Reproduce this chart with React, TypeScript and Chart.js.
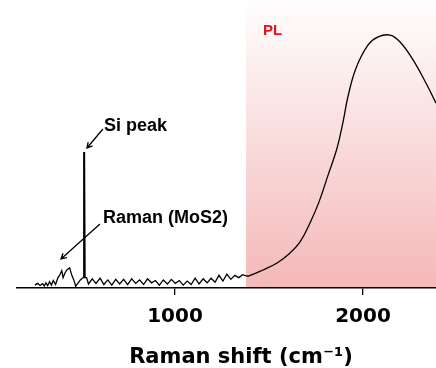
import React, { useEffect, useRef } from "react";
import { Chart, registerables } from "chart.js";

Chart.register(...registerables);

// Raman region: shift (cm-1) and intensity (a.u.)
const ramanShift = [
  255, 270, 283, 296, 305, 314, 323, 333, 343, 353, 365, 378, 388, 398, 405, 415, 425, 440, 452, 462,
  472, 485, 497, 507, 512, 515, 519, 522, 530, 540, 560, 580, 602, 622, 643, 664, 685, 706, 727, 748,
  770, 791, 812, 833, 854, 875, 896, 917, 938, 960, 981, 1002, 1023, 1044, 1065, 1086, 1107, 1128, 1150, 1171,
  1192, 1213, 1234, 1255, 1276, 1297, 1318, 1339, 1360, 1378,
];
const ramanIntensity = [
  1.0, 1.6, 0.9, 1.5, 0.7, 1.8, 0.8, 2.2, 1.0, 2.6, 1.2, 3.6, 4.6, 6.0, 3.6, 5.2, 6.3, 7.0, 4.3, 2.8,
  0.6, 1.8, 2.8, 3.4, 3.6, 47.0, 47.0, 3.6, 3.6, 1.4, 3.2, 1.6, 3.4, 1.2, 2.8, 1.0, 3.0, 1.4, 3.0, 1.2,
  3.2, 1.6, 2.8, 1.2, 3.2, 1.8, 2.6, 1.0, 2.8, 1.4, 3.0, 1.6, 2.6, 1.0, 2.4, 1.2, 3.4, 1.4, 3.2, 1.8,
  3.4, 2.0, 4.4, 2.4, 4.8, 3.0, 4.4, 3.6, 4.6, 4.2,
];
// PL region
const plShift = [1378, 1394, 1468, 1543, 1606, 1665, 1718, 1766, 1814, 1862, 1894, 1920, 1963, 2027, 2080, 2144, 2197, 2266, 2340, 2388];
const plIntensity = [4.2, 4.2, 6.25, 8.7, 11.8, 16.0, 22.6, 29.9, 39.2, 48.6, 57.8, 66.5, 76.4, 84.4, 87.2, 87.8, 85.4, 79.2, 70.5, 64.2];

const xTicks = [1000, 2000];
const xMin = 160;
const xMax = 2388;
const yMax = 100;
const plStart = 1378;
const xTitle = "Raman shift (cm⁻¹)";
const plLabel = "PL";
const siLabel = "Si peak";
const mosLabel = "Raman (MoS2)";

function drawArrow(ctx: CanvasRenderingContext2D, x1: number, y1: number, x2: number, y2: number) {
  const ang = Math.atan2(y2 - y1, x2 - x1);
  const h = 6;
  ctx.beginPath();
  ctx.moveTo(x1, y1);
  ctx.lineTo(x2, y2);
  ctx.moveTo(x2 - h * Math.cos(ang - 0.5), y2 - h * Math.sin(ang - 0.5));
  ctx.lineTo(x2, y2);
  ctx.lineTo(x2 - h * Math.cos(ang + 0.5), y2 - h * Math.sin(ang + 0.5));
  ctx.stroke();
}

const overlayPlugin = {
  id: "overlay",
  beforeDraw(chart: any) {
    const { ctx, chartArea, scales } = chart;
    const left = scales.x.getPixelForValue(plStart);
    const g = ctx.createLinearGradient(0, chartArea.top, 0, chartArea.bottom);
    g.addColorStop(0, "#fffefe");
    g.addColorStop(1, "#f4b8b8");
    ctx.save();
    ctx.fillStyle = g;
    ctx.fillRect(left, chartArea.top, chartArea.right - left, chartArea.bottom - chartArea.top);
    ctx.restore();
  },
  afterDatasetsDraw(chart: any) {
    const { ctx, scales } = chart;
    const px = (v: number) => scales.x.getPixelForValue(v);
    const py = (v: number) => scales.y.getPixelForValue(v);
    ctx.save();
    ctx.textBaseline = "middle";
    ctx.textAlign = "left";
    ctx.fillStyle = "#e8111c";
    ctx.font = "bold 15px 'Liberation Sans', Arial, sans-serif";
    ctx.fillText(plLabel, px(1468), py(89.2));
    ctx.fillStyle = "#000";
    ctx.font = "bold 18px 'Liberation Sans', Arial, sans-serif";
    ctx.fillText(siLabel, px(622), py(56.3));
    ctx.fillText(mosLabel, px(617), py(24.3));
    ctx.strokeStyle = "#000";
    ctx.lineWidth = 1.3;
    drawArrow(ctx, px(617), py(55.2), px(532), py(48.6));
    drawArrow(ctx, px(601), py(22.2), px(394), py(10.1));
    // axis title, centred as in the reference
    ctx.textAlign = "center";
    ctx.font = "bold 21px 'DejaVu Sans', sans-serif";
    ctx.fillText(xTitle, px(1351), chart.height - 10);
    ctx.restore();
  },
};

export default function App() {
  const ref = useRef<HTMLCanvasElement>(null);
  useEffect(() => {
    document.body.style.margin = "0";
    const chart = new Chart(ref.current as HTMLCanvasElement, {
      type: "line",
      data: {
        datasets: [
          {
            data: ramanShift.map((x, i) => ({ x, y: ramanIntensity[i] })),
            borderColor: "#000",
            borderWidth: 1.3,
            pointRadius: 0,
            tension: 0,
            fill: false,
          },
          {
            data: plShift.map((x, i) => ({ x, y: plIntensity[i] })),
            borderColor: "#000",
            borderWidth: 1.3,
            pointRadius: 0,
            tension: 0.4,
            fill: false,
          },
        ],
      },
      options: {
        animation: false,
        responsive: false,
        maintainAspectRatio: false,
        layout: { padding: { left: 17, right: 0, top: 0, bottom: 0 } },
        plugins: { legend: { display: false }, tooltip: { enabled: false } },
        scales: {
          x: {
            type: "linear",
            min: xMin,
            max: xMax,
            afterBuildTicks: (scale: any) => {
              scale.ticks = xTicks.map((value) => ({ value }));
            },
            afterFit: (scale: any) => {
              scale.height = 80;
            },
            grid: { drawOnChartArea: false, drawTicks: true, tickLength: 7, color: "#000", lineWidth: 1.3 },
            border: { display: true, color: "#000", width: 1.5 },
            ticks: {
              color: "#000",
              padding: 10,
              maxRotation: 0,
              font: { family: "'DejaVu Sans', sans-serif", size: 20, weight: "bold", lineHeight: 1.2 },
              callback: (v: any) => String(v),
            },
            title: { display: false },
          },
          y: {
            display: false,
            min: 0,
            max: yMax,
          },
        },
      },
      plugins: [overlayPlugin],
    });
    return () => chart.destroy();
  }, []);
  return (
    <div style={{ width: 436, height: 368 }}>
      <canvas ref={ref} width={436} height={368} style={{ display: "block" }} />
    </div>
  );
}
